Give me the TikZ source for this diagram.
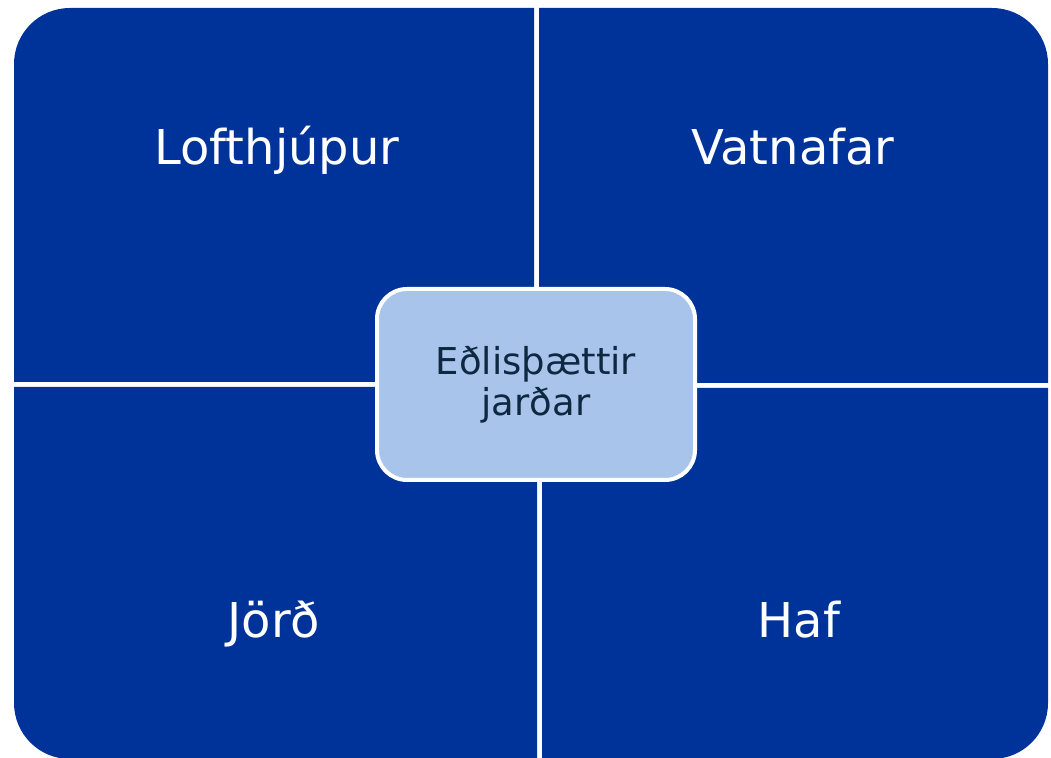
\documentclass[tikz,border=0pt]{standalone}
\usepackage{fontspec}
\setmainfont{DejaVu Sans}
\usepackage{tikz}
\usetikzlibrary{positioning}

\definecolor{quadblue}{RGB}{0,51,153}
\definecolor{coreblue}{RGB}{169,196,235}
\definecolor{coretext}{RGB}{14,40,66}

\tikzset{
    quad/.style={fill=quadblue},
    lbl/.style={anchor=base, text=white, font=\fontsize{48}{58}\selectfont},
    core/.style={draw=white, line width=4pt, fill=coreblue, rounded corners=30pt,
        minimum width=318pt, minimum height=191pt, text=coretext, align=center,
        font=\fontsize{37}{42}\selectfont}
}

\begin{document}
\begin{tikzpicture}[x=1pt, y=1pt]
    \useasboundingbox (0,0) rectangle (1051,757);

    % Four quadrants, outer corners rounded
    \fill[quad] (534,375) -- (14,375) -- (14,693) arc[start angle=180, end angle=90, radius=56] -- (534,749) -- cycle;
    \fill[quad] (539,374) -- (539,749) -- (992,749) arc[start angle=90, end angle=0, radius=56] -- (1048,374) -- cycle;
    \fill[quad] (537,370) -- (14,370) -- (14,54) arc[start angle=180, end angle=270, radius=56] -- (537,-2) -- cycle;
    \fill[quad] (542,369) -- (1048,369) -- (1048,54) arc[start angle=0, end angle=-90, radius=56] -- (542,-2) -- cycle;

    % Quadrant labels
    \node[lbl] (air) at (277,592) {Lofthjúpur};
    \node[lbl] (water) at (793,592) {Vatnafar};
    \node[lbl] (earth) at (274,119) {Jörð};
    \node[lbl] (sea) at (799,119) {Haf};

    % Centre box
    \node[core] (centre) at (536,372.5) {Eðlisþættir\\[-1pt]jarðar};
\end{tikzpicture}
\end{document}
